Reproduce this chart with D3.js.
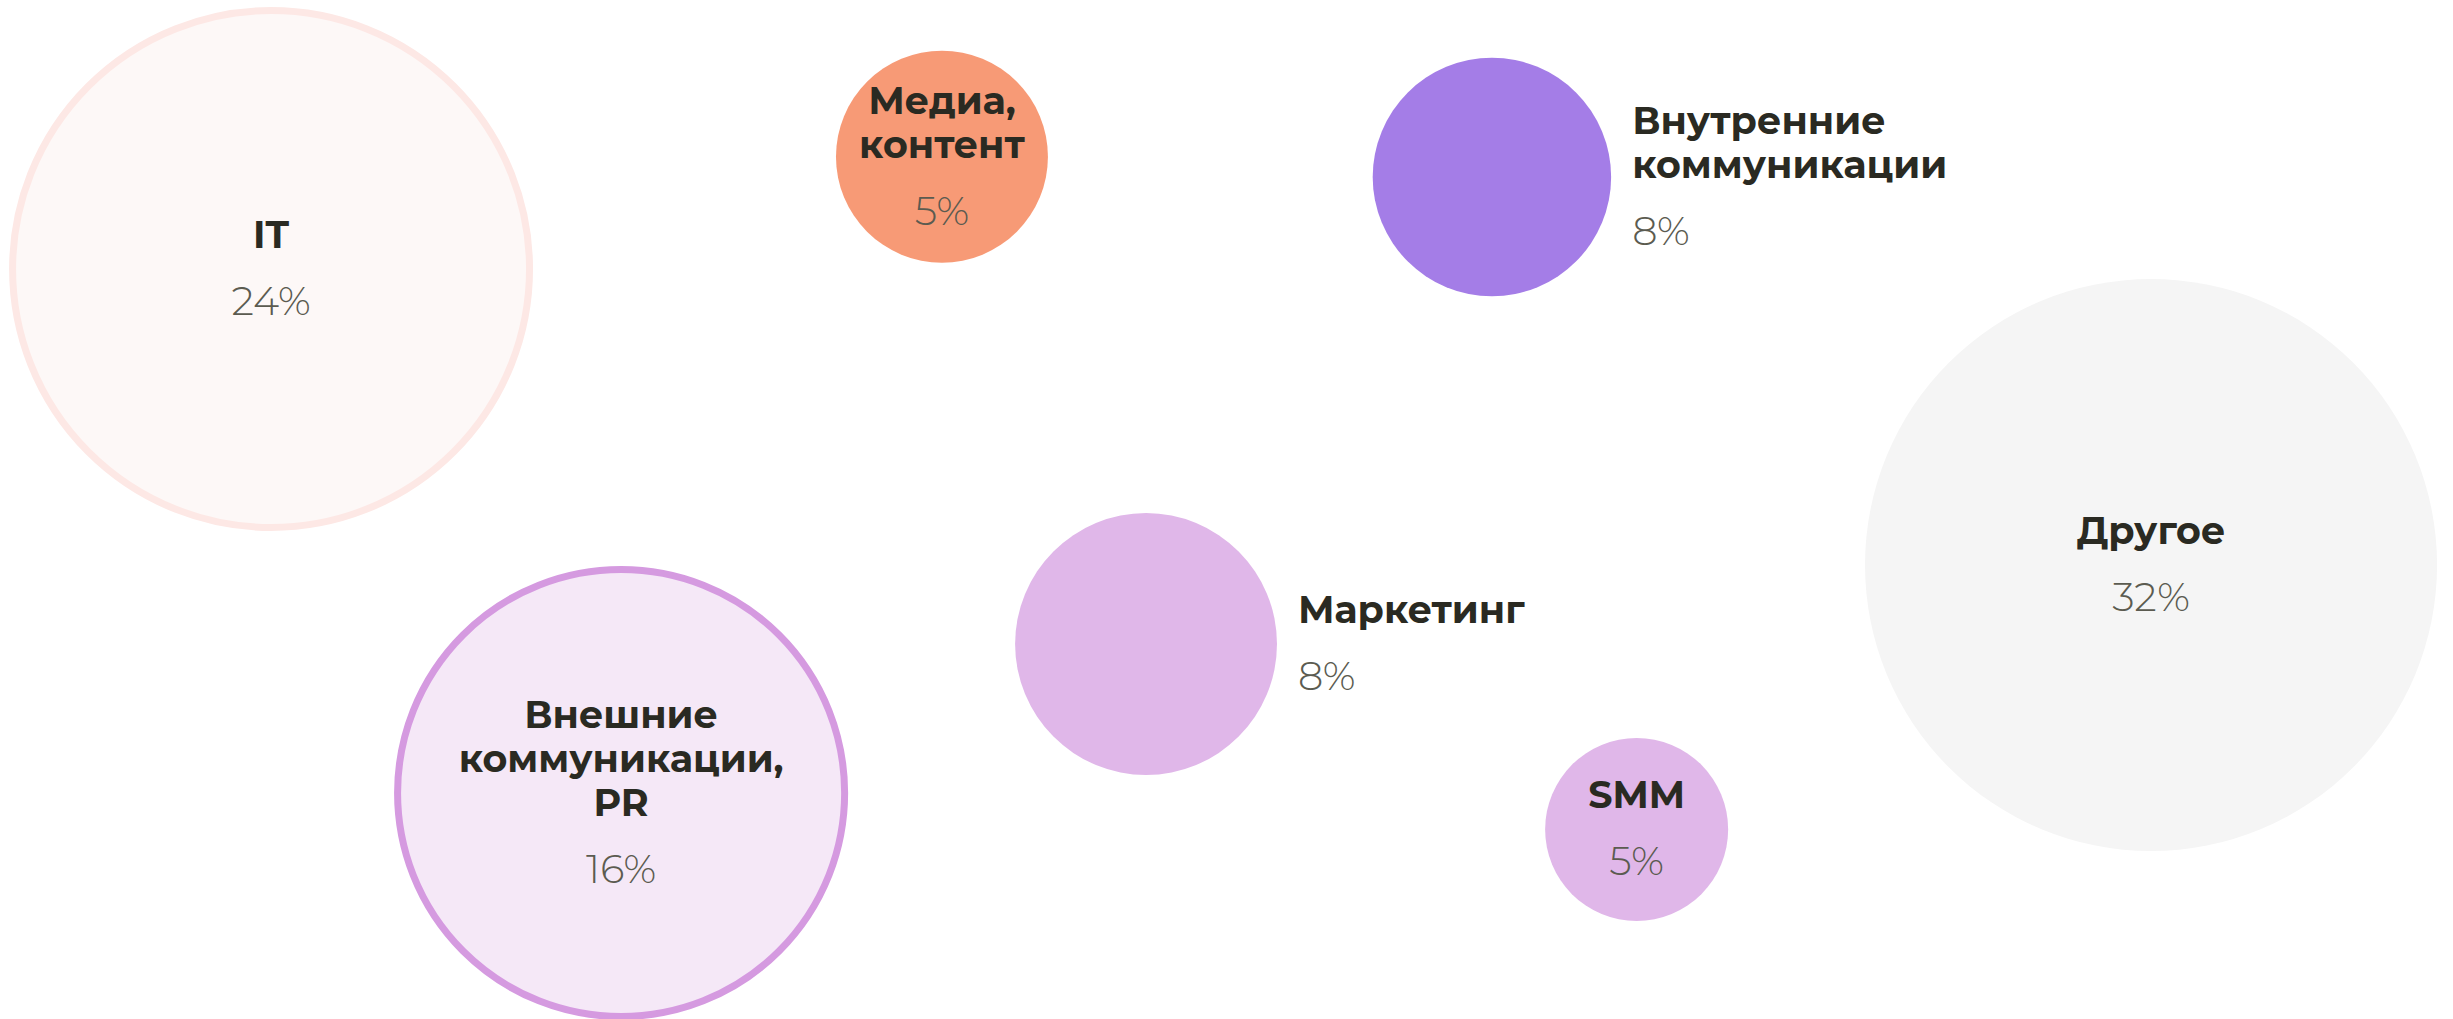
<!DOCTYPE html>
<html>
<head>
<meta charset="utf-8">
<script src="https://cdn.jsdelivr.net/npm/d3@7"></script>
<style>
    body { margin: 0; background: #fff; }
    .bubble_title { font-family: Montserrat, "DejaVu Sans", sans-serif; font-weight: 700; fill: #2a2a22; }
    .bubble_value { font-family: Montserrat, Roboto, sans-serif; font-weight: 300; fill: #5b5b50; }
</style>
</head>
<body>
<div id="bubble_chart"></div>
<script>
// data
var categories = ["IT", "Медиа, контент", "Внутренние коммуникации", "Другое", "Маркетинг", "Внешние коммуникации, PR", "SMM"];
var title_lines = [["IT"], ["Медиа,", "контент"], ["Внутренние", "коммуникации"], ["Другое"], ["Маркетинг"], ["Внешние", "коммуникации,", "PR"], ["SMM"]];
var shares = [24, 5, 8, 32, 8, 16, 5];

// layout (percent of the canvas) and looks, one entry per category
var pos_x = [11.05, 38.4, 60.82, 87.69, 46.72, 25.32, 66.72];
var pos_y = [26.4, 15.38, 17.37, 55.45, 63.2, 77.82, 81.4];
var size = [25.71, 10.4, 11.7, 28.07, 12.85, 22.28, 8.98];  // radius, percent of height
var label_side = ["in", "in", "right", "in", "right", "in", "in"];
var fills = ["#fdf8f7", "#f79a76", "#a47de7", "#f5f5f5", "#e0b7e9", "#f5e8f7", "#e0b7e9"];
var strokes = ["#fde8e5", null, null, null, null, "#d59ae0", null];

var width = 2453, height = 1019;
var line_gap = 44, value_gap = 67, cap_h = 25;

var scaleX = d3.scaleLinear().domain([0, 100]).range([0, width]);
var scaleY = d3.scaleLinear().domain([0, 100]).range([0, height]);

var svg = d3.select("#bubble_chart").append("svg")
    .attr("width", width)
    .attr("height", height);

var data = categories.map(function(c, i){
    return {name: c, lines: title_lines[i], value: shares[i],
            x: scaleX(pos_x[i]), y: scaleY(pos_y[i]), r: scaleY(size[i]),
            side: label_side[i], fill: fills[i], stroke: strokes[i]};
});

var g = svg.selectAll("g.bubble")
        .data(data)
    .enter().append("g")
    .attr("class", "bubble")
    .attr("transform", function(d){ return "translate(" + d.x + "," + d.y + ")"; });

g.append("circle")
    .attr("r", function(d){ return d.stroke ? d.r - 3.5 : d.r; })
    .style("fill", function(d){ return d.fill; })
    .style("stroke", function(d){ return d.stroke || "none"; })
    .style("stroke-width", 7);

g.each(function(d){
    var sel = d3.select(this);
    var n = d.lines.length;
    var span = cap_h + line_gap * (n - 1) + value_gap;
    var y0 = -span / 2 + cap_h;
    var tx = d.side == "in" ? 0 : d.r + 21;
    var anchor = d.side == "in" ? "middle" : "start";

    sel.selectAll("text.bubble_title")
            .data(d.lines)
        .enter().append("text")
        .attr("class", "bubble_title")
        .attr("x", tx)
        .attr("y", function(l, i){ return y0 + i * line_gap; })
        .style("font-size", "38px")
        .style("text-anchor", anchor)
        .text(function(l){ return l; });

    sel.append("text")
        .attr("class", "bubble_value")
        .attr("x", tx)
        .attr("y", y0 + line_gap * (n - 1) + value_gap)
        .style("font-size", "40px")
        .style("text-anchor", anchor)
        .text(d.value + "%");
});
</script>
</body>
</html>
